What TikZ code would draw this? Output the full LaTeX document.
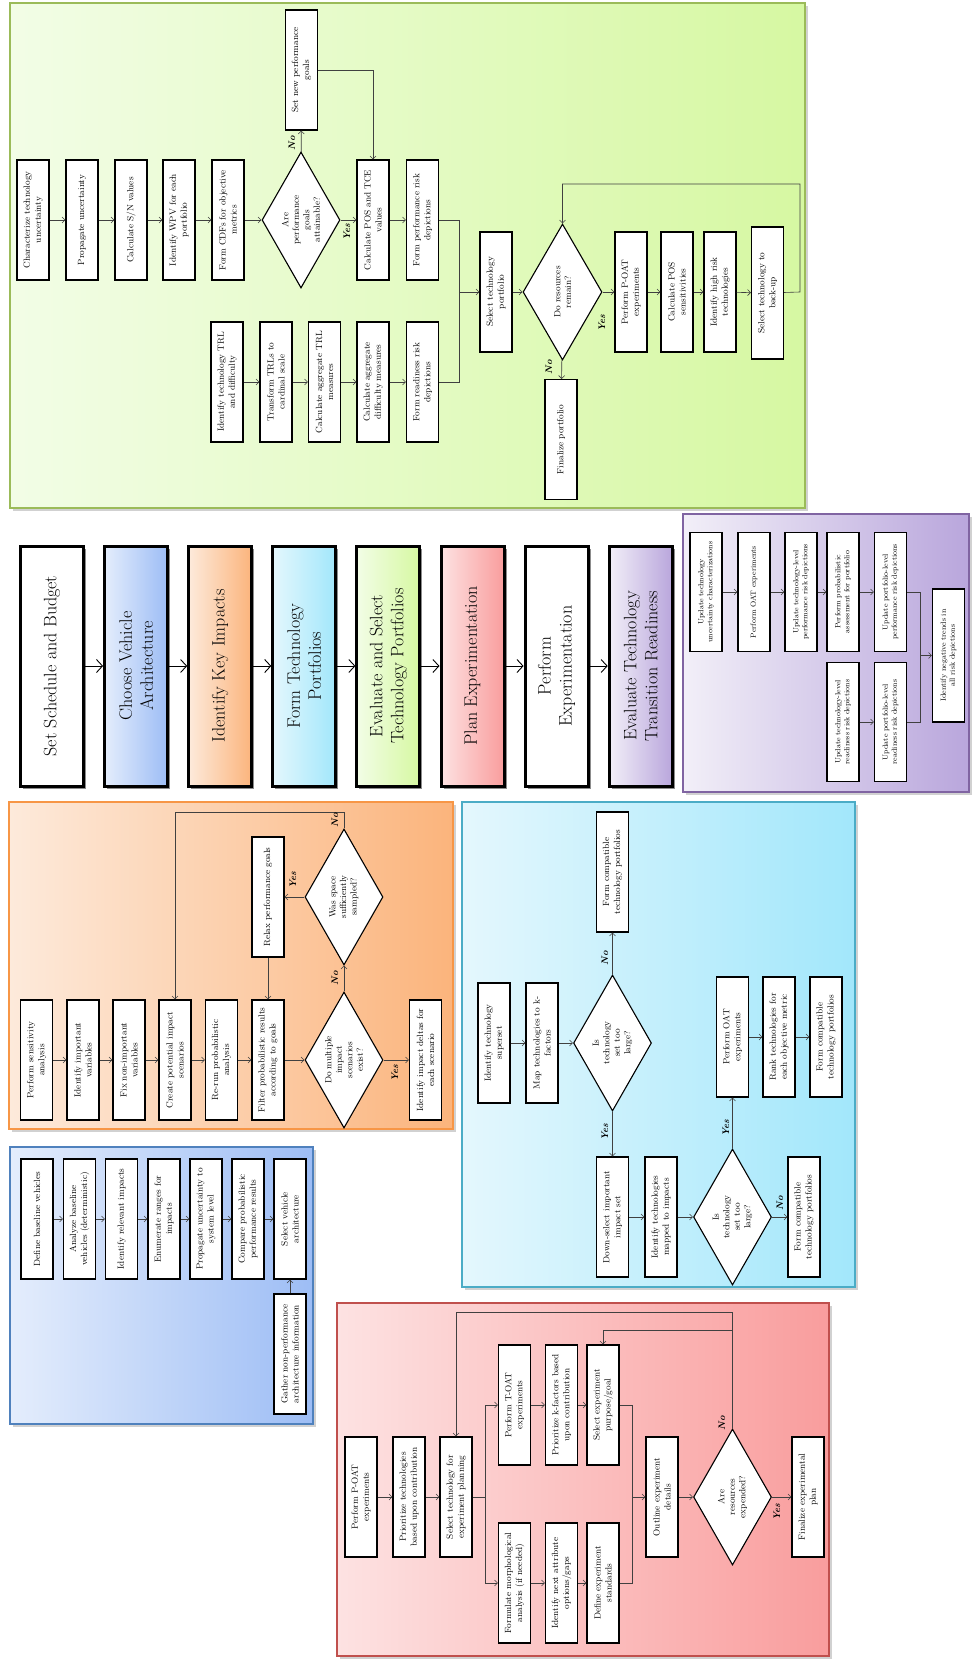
\documentclass[tikz,border=0pt]{standalone}
\usepackage{fontspec}
\usetikzlibrary{arrows.meta, shapes.geometric, shadows}

% Kleuren van de panelen en fasen
\definecolor{groenrand}{HTML}{9BBB59}
\definecolor{groenlicht}{HTML}{F2FDE6}
\definecolor{groendonker}{HTML}{D6F8A2}
\definecolor{oranjerand}{HTML}{F79646}
\definecolor{oranjelicht}{HTML}{FDEADB}
\definecolor{oranjedonker}{HTML}{FBB47C}
\definecolor{cyaanrand}{HTML}{4BACC6}
\definecolor{cyaanlicht}{HTML}{E4F7FD}
\definecolor{cyaandonker}{HTML}{A2E7FB}
\definecolor{blauwrand}{HTML}{4F81BD}
\definecolor{blauwlicht}{HTML}{E4EDFC}
\definecolor{blauwdonker}{HTML}{9DBDF5}
\definecolor{roodrand}{HTML}{C0504D}
\definecolor{roodlicht}{HTML}{FDE2E2}
\definecolor{rooddonker}{HTML}{F99D9D}
\definecolor{paarsrand}{HTML}{8064A2}
\definecolor{paarslicht}{HTML}{F2EFF8}
\definecolor{paarsdonker}{HTML}{B9A6DC}

\tikzset{
  stap/.style={draw, line width=1.1pt, fill=white, rotate=90, align=center,
    minimum width=120pt, minimum height=32pt, inner sep=2pt,
    font=\fontsize{9}{11}\selectfont},
  kleinestap/.style={stap, font=\fontsize{7.5}{9}\selectfont},
  keuze/.style={draw, line width=1.1pt, fill=white, diamond, aspect=1.75, rotate=90,
    align=center, inner sep=0pt, minimum width=136pt, minimum height=78pt,
    font=\fontsize{9}{10.5}\selectfont},
  antwoord/.style={rotate=90, inner sep=1pt,
    font=\fontsize{9.5}{10}\selectfont\bfseries\itshape},
  fase/.style={draw, line width=3pt, rotate=90, align=center, minimum width=240pt,
    minimum height=63pt, inner sep=3pt, font=\fontsize{18}{21}\selectfont,
    general shadow={fill=black!45, shadow xshift=2.5pt, shadow yshift=-2.5pt}},
  paneel/.style={line width=1.3pt,
    general shadow={fill=black!18, shadow xshift=3pt, shadow yshift=-3pt}},
  pijl/.style={draw=black!75, line width=0.6pt, -{Straight Barb[length=3pt, width=6pt]}},
  lijn/.style={draw=black!75, line width=0.6pt},
  grotepijl/.style={line width=0.9pt, -{Straight Barb[length=6pt, width=13pt]}},
}

\begin{document}
\begin{tikzpicture}[x=1pt, y=-1pt]
    \useasboundingbox (0,0) rectangle (972,1659);

    % Achtergrondpanelen
    \path[paneel, draw=groenrand, left color=groenlicht, right color=groendonker] (10,3) rectangle (805,508);
    \path[paneel, draw=paarsrand, left color=paarslicht, right color=paarsdonker] (683,514) rectangle (969,792);
    \path[paneel, draw=oranjerand, left color=oranjelicht, right color=oranjedonker] (9,802) rectangle (453,1129);
    \path[paneel, draw=cyaanrand, left color=cyaanlicht, right color=cyaandonker] (462,802) rectangle (855,1287);
    \path[paneel, draw=blauwrand, left color=blauwlicht, right color=blauwdonker] (10,1147) rectangle (313,1424);
    \path[paneel, draw=roodrand, left color=roodlicht, right color=rooddonker] (337,1303) rectangle (829,1656);

    % Hoofdfasen in het midden
    \foreach \tekst/\licht/\donker [count=\i from 0] in {
        {Set Schedule and Budget}/white/white,
        {Choose Vehicle\\Architecture}/blauwlicht/blauwdonker,
        {Identify Key Impacts}/oranjelicht/oranjedonker,
        {Form Technology\\Portfolios}/cyaanlicht/cyaandonker,
        {Evaluate and Select\\Technology Portfolios}/groenlicht/groendonker,
        {Plan Experimentation}/roodlicht/rooddonker,
        {Perform\\Experimentation}/white/white,
        {Evaluate Technology\\Transition Readiness}/paarslicht/paarsdonker} {
        \node[fase, left color=\licht, right color=\donker] (fase\i) at ({52+84.1*\i}, 666) {\tekst};
    }
    \foreach \i [count=\j from 1] in {0,...,6} {
        \draw[grotepijl] (fase\i) -- (fase\j);
    }

    % Evaluate and Select Technology Portfolios
    \node[stap] (ctu) at (33,220) {Characterize technology\\uncertainty};
    \node[stap] (pu) at (82,220) {Propagate uncertainty};
    \node[stap] (csn) at (131,220) {Calculate S/N values};
    \node[stap] (wpv) at (179,220) {Identify WPV for each\\portfolio};
    \node[stap] (cdf) at (228,220) {Form CDFs for objective\\metrics};
    \node[keuze] (dgoal) at (301,220) {Are\\performance\\goals\\attainable?};
    \node[stap] (newg) at (301.5,70) {Set new performance\\goals};
    \node[stap] (pos) at (373,220) {Calculate POS and TCE\\values};
    \node[stap] (perfrisk) at (422.5,220) {Form performance risk\\depictions};
    \node[stap] (trl) at (227,382) {Identify technology TRL\\and difficulty};
    \node[stap] (cardinal) at (276,382) {Transform TRLs to\\cardinal scale};
    \node[stap] (aggtrl) at (324.5,382) {Calculate aggregate TRL\\measures};
    \node[stap] (aggdiff) at (373,382) {Calculate aggregate\\difficulty measures};
    \node[stap] (readrisk) at (422.5,382) {Form readiness risk\\depictions};
    \node[stap] (selport) at (496,292) {Select technology\\portfolio};
    \node[keuze, minimum height=79pt] (dres) at (562.5,292) {Do resources\\remain?};
    \node[stap] (poat) at (631,292) {Perform P-OAT\\experiments};
    \node[stap] (possens) at (677,292) {Calculate POS\\sensitivities};
    \node[stap] (highrisk) at (720,292) {Identify high risk\\technologies};
    \node[stap, minimum width=132pt] (backup) at (767.5,293) {Select technology to\\back-up};
    \node[stap] (finport) at (561,439.5) {Finalize portfolio};
    \coordinate (gjoin) at (459,292);
    \coordinate (gloop1) at (800,292);
    \coordinate (gloop2) at (562.5,184);

    \draw[pijl] (ctu) -- (pu);
    \draw[pijl] (pu) -- (csn);
    \draw[pijl] (csn) -- (wpv);
    \draw[pijl] (wpv) -- (cdf);
    \draw[pijl] (cdf) -- (dgoal);
    \draw[pijl] (dgoal) -- (newg);
    \draw[pijl] (dgoal) -- (pos);
    \draw[pijl] (newg) -| (pos);
    \draw[pijl] (pos) -- (perfrisk);
    \draw[pijl] (trl) -- (cardinal);
    \draw[pijl] (cardinal) -- (aggtrl);
    \draw[pijl] (aggtrl) -- (aggdiff);
    \draw[pijl] (aggdiff) -- (readrisk);
    \draw[lijn] (perfrisk) -| (gjoin);
    \draw[lijn] (readrisk) -| (gjoin);
    \draw[pijl] (gjoin) -- (selport);
    \draw[pijl] (selport) -- (dres);
    \draw[pijl] (dres) -- (poat);
    \draw[pijl] (poat) -- (possens);
    \draw[pijl] (possens) -- (highrisk);
    \draw[pijl] (highrisk) -- (backup);
    \draw[pijl] (backup) -- (gloop1) |- (gloop2) -- (dres);
    \draw[pijl] (dres) -- (finport);
    \node[antwoord] (gno1) at (292,143) {No};
    \node[antwoord] (gyes1) at (347,232) {Yes};
    \node[antwoord] (gyes2) at (602,323) {Yes};
    \node[antwoord] (gno2) at (549,367) {No};

    % Evaluate Technology Transition Readiness
    \node[kleinestap, minimum width=119pt] (utu) at (706,592) {Update technology\\uncertainty characterizations};
    \node[kleinestap, minimum width=119pt] (poatp) at (754,592) {Perform OAT experiments};
    \node[kleinestap, minimum width=119pt] (utlp) at (801,592) {Update technology-level\\performance risk depictions};
    \node[kleinestap, minimum width=119pt] (ppa) at (843,592) {Perform probabilistic\\assessment for portfolio};
    \node[kleinestap, minimum width=119pt] (uplp) at (890.5,592) {Update portfolio-level\\performance risk depictions};
    \node[kleinestap, minimum width=119pt] (utlr) at (843,722) {Update technology-level\\readiness risk depictions};
    \node[kleinestap, minimum width=119pt] (uplr) at (890.5,722) {Update portfolio-level\\readiness risk depictions};
    \node[kleinestap, minimum width=133pt] (negt) at (948.5,655.5) {Identify negative trends in\\all risk depictions};
    \coordinate (pjoin) at (920,655.5);
    \draw[pijl] (utu) -- (poatp);
    \draw[pijl] (poatp) -- (utlp);
    \draw[pijl] (utlp) -- (ppa);
    \draw[pijl] (ppa) -- (uplp);
    \draw[pijl] (utlr) -- (uplr);
    \draw[lijn] (uplp) -| (pjoin);
    \draw[lijn] (uplr) -| (pjoin);
    \draw[pijl] (pjoin) -- (negt);

    % Identify Key Impacts
    \node[stap] (psa) at (36.5,1060) {Perform sensitivity\\analysis};
    \node[stap] (iiv) at (83,1060) {Identify important\\variables};
    \node[stap] (fnv) at (129,1060) {Fix non-important\\variables};
    \node[stap] (cis) at (175,1060) {Create potential impact\\scenarios};
    \node[stap] (rpa) at (221.5,1060) {Re-run probabilistic\\analysis};
    \node[stap] (fpr) at (268,1060) {Filter probabilistic results\\according to goals};
    \node[keuze] (dmult) at (344,1060) {Do multiple\\impact\\scenarios\\exist?};
    \node[stap] (idelta) at (425.5,1060) {Identify impact deltas for\\each scenario};
    \node[keuze] (dsamp) at (344,897) {Was space\\sufficiently\\sampled?};
    \node[stap] (relax) at (268,897) {Relax performance goals};
    \coordinate (oloop) at (344,812);
    \draw[pijl] (psa) -- (iiv);
    \draw[pijl] (iiv) -- (fnv);
    \draw[pijl] (fnv) -- (cis);
    \draw[pijl] (cis) -- (rpa);
    \draw[pijl] (rpa) -- (fpr);
    \draw[pijl] (fpr) -- (dmult);
    \draw[pijl] (dmult) -- (idelta);
    \draw[pijl] (dmult) -- (dsamp);
    \draw[pijl] (dsamp) -- (relax);
    \draw[pijl] (relax) -- (fpr);
    \draw[pijl] (dsamp) -- (oloop) -| (cis);
    \node[antwoord] (oyes1) at (395,1073) {Yes};
    \node[antwoord] (ono1) at (335,978) {No};
    \node[antwoord] (oyes2) at (293,880) {Yes};
    \node[antwoord] (ono2) at (335,820) {No};

    % Form Technology Portfolios
    \node[stap] (its) at (494,1043) {Identify technology\\superset};
    \node[stap] (mapk) at (542,1043) {Map technologies to k-\\factors};
    \node[keuze] (dlarge1) at (612.5,1043) {Is\\technology\\set too\\large?};
    \node[stap] (fctp1) at (612.5,872) {Form compatible\\technology portfolios};
    \node[stap] (dsis) at (612.5,1217) {Down-select important\\impact set};
    \node[stap] (itmi) at (661,1217) {Identify technologies\\mapped to impacts};
    \node[keuze] (dlarge2) at (732.5,1217) {Is\\technology\\set too\\large?};
    \node[stap] (poatc) at (732.5,1037) {Perform OAT\\experiments};
    \node[stap] (rank) at (779,1037) {Rank technologies for\\each objective metric};
    \node[stap] (fctp3) at (826,1037) {Form compatible\\technology portfolios};
    \node[stap] (fctp2) at (804,1217) {Form compatible\\technology portfolios};
    \draw[pijl] (its) -- (mapk);
    \draw[pijl] (mapk) -- (dlarge1);
    \draw[pijl] (dlarge1) -- (fctp1);
    \draw[pijl] (dlarge1) -- (dsis);
    \draw[pijl] (dsis) -- (itmi);
    \draw[pijl] (itmi) -- (dlarge2);
    \draw[pijl] (dlarge2) -- (poatc);
    \draw[pijl] (dlarge2) -- (fctp2);
    \draw[pijl] (poatc) -- (rank);
    \draw[pijl] (rank) -- (fctp3);
    \node[antwoord] (cno1) at (605,958) {No};
    \node[antwoord] (cyes1) at (605,1132) {Yes};
    \node[antwoord] (cyes2) at (726,1128) {Yes};
    \node[antwoord] (cno2) at (780,1203) {No};

    % Choose Vehicle Architecture
    \node[stap] (dbv) at (37,1219) {Define baseline vehicles};
    \node[stap] (abv) at (79.5,1219) {Analyze baseline\\vehicles (deterministic)};
    \node[stap] (iri) at (121.5,1219) {Identify relevant impacts};
    \node[stap] (erange) at (164,1219) {Enumerate ranges for\\impacts};
    \node[stap] (pusys) at (206,1219) {Propagate uncertainty to\\system level};
    \node[stap] (cppr) at (248,1219) {Compare probabilistic\\performance results};
    \node[stap] (sva) at (290,1219) {Select vehicle\\architecture};
    \node[stap] (gnp) at (290,1354) {Gather non-performance\\architecture information};
    \draw[pijl] (dbv) -- (abv);
    \draw[pijl] (abv) -- (iri);
    \draw[pijl] (iri) -- (erange);
    \draw[pijl] (erange) -- (pusys);
    \draw[pijl] (pusys) -- (cppr);
    \draw[pijl] (cppr) -- (sva);
    \draw[pijl] (gnp) -- (sva);

    % Plan Experimentation
    \node[stap] (rpoat) at (361,1497) {Perform P-OAT\\experiments};
    \node[stap] (ptbc) at (409,1497) {Prioritize technologies\\based upon contribution};
    \node[stap] (stplan) at (456,1497) {Select technology for\\experiment planning};
    \node[stap] (ptoat) at (514.5,1405) {Perform T-OAT\\experiments};
    \node[stap] (pkf) at (561.5,1405) {Prioritize k-factors based\\upon contribution};
    \node[stap] (sgoal) at (603,1405) {Select experiment\\purpose/goal};
    \node[stap] (fmorph) at (514.5,1583) {Formulate morphological\\analysis (if needed)};
    \node[stap] (inext) at (561.5,1583) {Identify next attribute\\options/gaps};
    \node[stap] (dstd) at (603,1583) {Define experiment\\standards};
    \node[stap] (outline) at (662,1497) {Outline experiment\\details};
    \node[keuze] (dexp) at (732.5,1497) {Are\\resources\\expended?};
    \node[stap] (finplan) at (808,1497) {Finalize experimental\\plan};
    \coordinate (rsplit) at (485,1497);
    \coordinate (rmerge) at (632,1497);
    \coordinate (rtop) at (732.5,1312);
    \coordinate (rmid) at (732.5,1330);
    \draw[pijl] (rpoat) -- (ptbc);
    \draw[pijl] (ptbc) -- (stplan);
    \draw[lijn] (stplan) -- (rsplit);
    \draw[pijl] (rsplit) |- (ptoat);
    \draw[pijl] (rsplit) |- (fmorph);
    \draw[pijl] (ptoat) -- (pkf);
    \draw[pijl] (pkf) -- (sgoal);
    \draw[pijl] (fmorph) -- (inext);
    \draw[pijl] (inext) -- (dstd);
    \draw[lijn] (sgoal) -| (rmerge);
    \draw[lijn] (dstd) -| (rmerge);
    \draw[pijl] (rmerge) -- (outline);
    \draw[pijl] (outline) -- (dexp);
    \draw[pijl] (dexp) -- (finplan);
    \draw[pijl] (dexp) -- (rtop) -| (stplan);
    \draw[pijl] (rmid) -| (sgoal);
    \node[antwoord] (ryes) at (777,1512) {Yes};
    \node[antwoord] (rno) at (722,1423) {No};
\end{tikzpicture}
\end{document}
